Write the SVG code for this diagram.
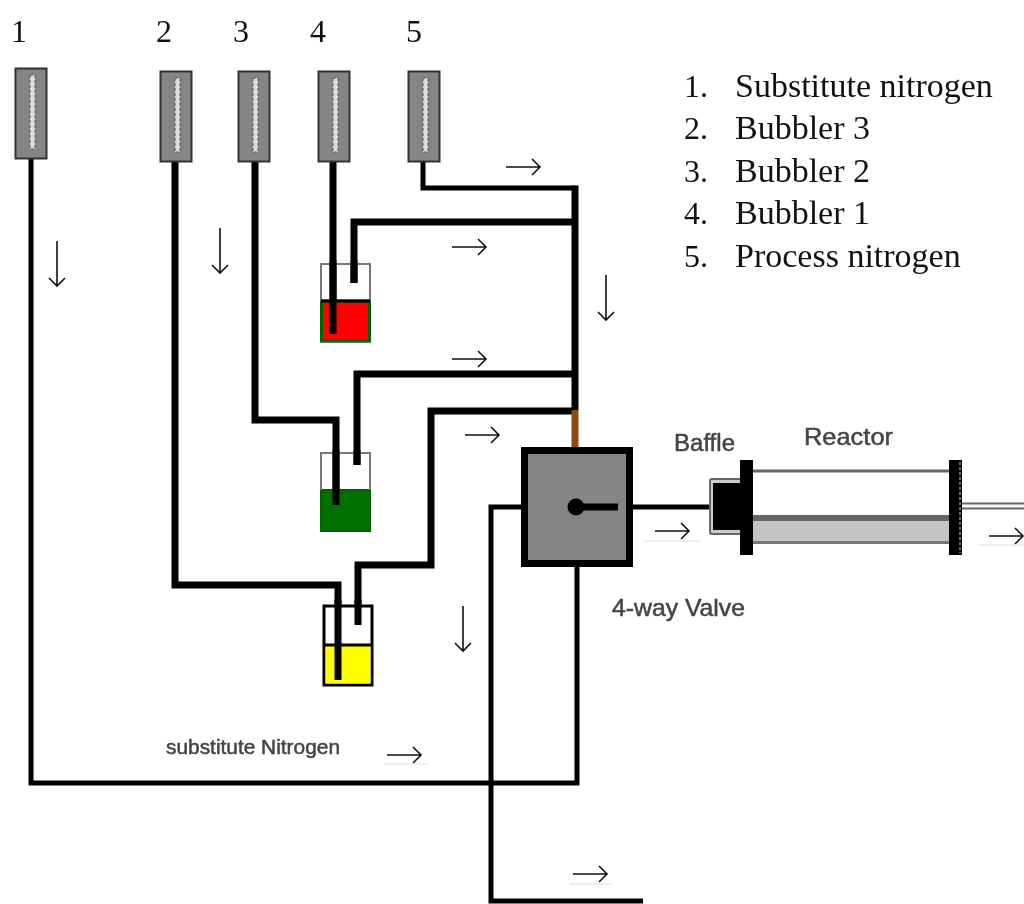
<svg xmlns="http://www.w3.org/2000/svg" width="1024" height="904" viewBox="0 0 1024 904">
<defs>
<filter id="soft" x="-2%" y="-2%" width="104%" height="104%"><feGaussianBlur stdDeviation="0.7"/></filter>
<g id="meter"><rect x="0.5" y="0.5" width="31" height="90" fill="#858585" stroke="#333" stroke-width="2"/><rect x="15" y="7" width="5" height="74" fill="#ddd" stroke="#555" stroke-width="1" stroke-dasharray="3 2"/></g>
<g id="ar"><path d="M0 0H34M26-8L34 0L26 8" fill="none" stroke="#111" stroke-width="1.6"/></g>
<g id="ad"><path d="M0 0V45M-8 37L0 45L8 37" fill="none" stroke="#111" stroke-width="1.6"/></g>
</defs>
<style>
.pipe{fill:none;stroke:#000;stroke-width:7}
.thin{fill:none;stroke:#000;stroke-width:5}
.ser{font-family:"Liberation Serif","Times New Roman",serif;font-size:32px;fill:#111}
.leg{font-size:34px}
.san{font-family:"Liberation Sans",Arial,sans-serif;fill:#444;stroke:#444;stroke-width:0.5}
.faint{stroke:#ddd;stroke-width:1;fill:none}
</style>
<rect width="1024" height="904" fill="#fff"/>
<g filter="url(#soft)">
<g id="connectors">
<path class="thin" d="M31 159V783H577V565"/>
<path class="pipe" d="M175 161V585H338V680"/>
<path class="pipe" d="M255 161V420H336V505"/>
<path class="pipe" d="M333 161V334"/>
<path class="thin" d="M423 161V188H575"/>
<path class="pipe" d="M575 185.500V410"/>
<path class="pipe" d="M354 283V222H575"/>
<path class="pipe" d="M357 465V374H575"/>
<path class="pipe" d="M358 625V565H431V411H575"/>
<path d="M575 410V447" fill="none" stroke="#8a4b08" stroke-width="7"/>
<path class="thin" d="M521 507H491V901H643"/>
<path class="thin" d="M633 507H710"/>
</g>
<g id="flow-1"><use href="#meter" x="15" y="68"/></g>
<g id="flow-2"><use href="#meter" x="160" y="71"/></g>
<g id="flow-3"><use href="#meter" x="238" y="71"/></g>
<g id="flow-4"><use href="#meter" x="318" y="71"/></g>
<g id="flow-5"><use href="#meter" x="408" y="71"/></g>
<g id="bubbler-1">
<rect x="321.500" y="301" width="48" height="40" fill="#ff0000" stroke="#006400" stroke-width="3"/>
<path d="M321 301V264H370V301" fill="none" stroke="#777" stroke-width="2"/>
<path d="M321 301H370" stroke="#000" stroke-width="3"/>
<path d="M320 342H371" stroke="#555" stroke-width="1.500"/>
<path class="pipe" d="M333 260V334M354 260V283"/>
</g>
<g id="bubbler-2">
<rect x="321" y="490" width="49" height="41" fill="#006f00" stroke="#006400" stroke-width="2"/>
<path d="M321 490V453H370V490" fill="none" stroke="#777" stroke-width="2"/>
<path class="pipe" d="M336 450V505M357 450V465"/>
</g>
<g id="bubbler-3">
<rect x="324" y="606" width="48" height="79" fill="#fff" stroke="#000" stroke-width="3"/>
<rect x="325.500" y="645" width="45" height="38.500" fill="#ffff00"/>
<path d="M324 645H372" stroke="#000" stroke-width="3"/>
<path class="pipe" d="M338 600V680M358 600V625"/>
</g>
<g id="valve">
<rect x="524.500" y="450.500" width="105" height="113" fill="#858585" stroke="#000" stroke-width="7"/>
<circle cx="576" cy="507" r="8.500" fill="#000"/>
<path d="M576 507H618" stroke="#000" stroke-width="7"/>
</g>
<g id="baffle">
<rect x="710" y="479" width="32" height="55" rx="2" fill="#ccc" stroke="#666" stroke-width="2"/>
<rect x="713" y="483" width="27" height="47" fill="#000"/>
</g>
<g id="reactor">
<path d="M753 471H950" stroke="#666" stroke-width="3"/>
<rect x="753" y="518" width="197" height="25" fill="#c4c4c4"/>
<path d="M753 518H950" stroke="#666" stroke-width="6"/>
<path d="M753 542.500H950" stroke="#777" stroke-width="3"/>
<rect x="740" y="460" width="13" height="95" fill="#000"/>
<rect x="949" y="460" width="13" height="95" fill="#000"/>
<path d="M960 462V553" stroke="#ccc" stroke-width="1" stroke-dasharray="3 2"/>
<path d="M962 503.500H1024M962 508.500H1024" stroke="#666" stroke-width="2"/>
</g>
<g id="labels">
<text class="san" x="674" y="451" font-size="23" textLength="61" lengthAdjust="spacingAndGlyphs">Baffle</text>
<text class="san" x="804" y="445" font-size="24" textLength="89" lengthAdjust="spacingAndGlyphs">Reactor</text>
<text class="san" x="612" y="616" font-size="24" textLength="133" lengthAdjust="spacingAndGlyphs">4-way Valve</text>
<text class="san" x="166" y="754" font-size="20" textLength="174" lengthAdjust="spacingAndGlyphs">substitute Nitrogen</text>
</g>
</g>
<g id="numbers">
<text class="ser" x="11" y="42">1</text>
<text class="ser" x="156" y="42">2</text>
<text class="ser" x="233" y="42">3</text>
<text class="ser" x="310" y="42">4</text>
<text class="ser" x="406" y="42">5</text>
</g>
<g id="legend">
<text class="ser" x="684" y="97">1.</text><text class="ser leg" x="735" y="97">Substitute nitrogen</text>
<text class="ser" x="684" y="139">2.</text><text class="ser leg" x="735" y="139">Bubbler 3</text>
<text class="ser" x="684" y="182">3.</text><text class="ser leg" x="735" y="182">Bubbler 2</text>
<text class="ser" x="684" y="224">4.</text><text class="ser leg" x="735" y="224">Bubbler 1</text>
<text class="ser" x="684" y="267">5.</text><text class="ser leg" x="735" y="267">Process nitrogen</text>
</g>
<g id="arrows">
<use href="#ar" x="506" y="167"/><use href="#ar" x="452" y="247"/><use href="#ar" x="452" y="359"/>
<use href="#ar" x="465" y="435"/><use href="#ar" x="655" y="531"/><use href="#ar" x="989" y="536"/>
<use href="#ar" x="387" y="755"/><use href="#ar" x="573" y="874"/>
<use href="#ad" x="57" y="241"/><use href="#ad" x="220" y="228"/><use href="#ad" x="606" y="275"/><use href="#ad" x="463" y="606"/>
<path class="faint" d="M645 541H700M979 545H1024M384 764H428M570 884H612"/>
</g>
</svg>
